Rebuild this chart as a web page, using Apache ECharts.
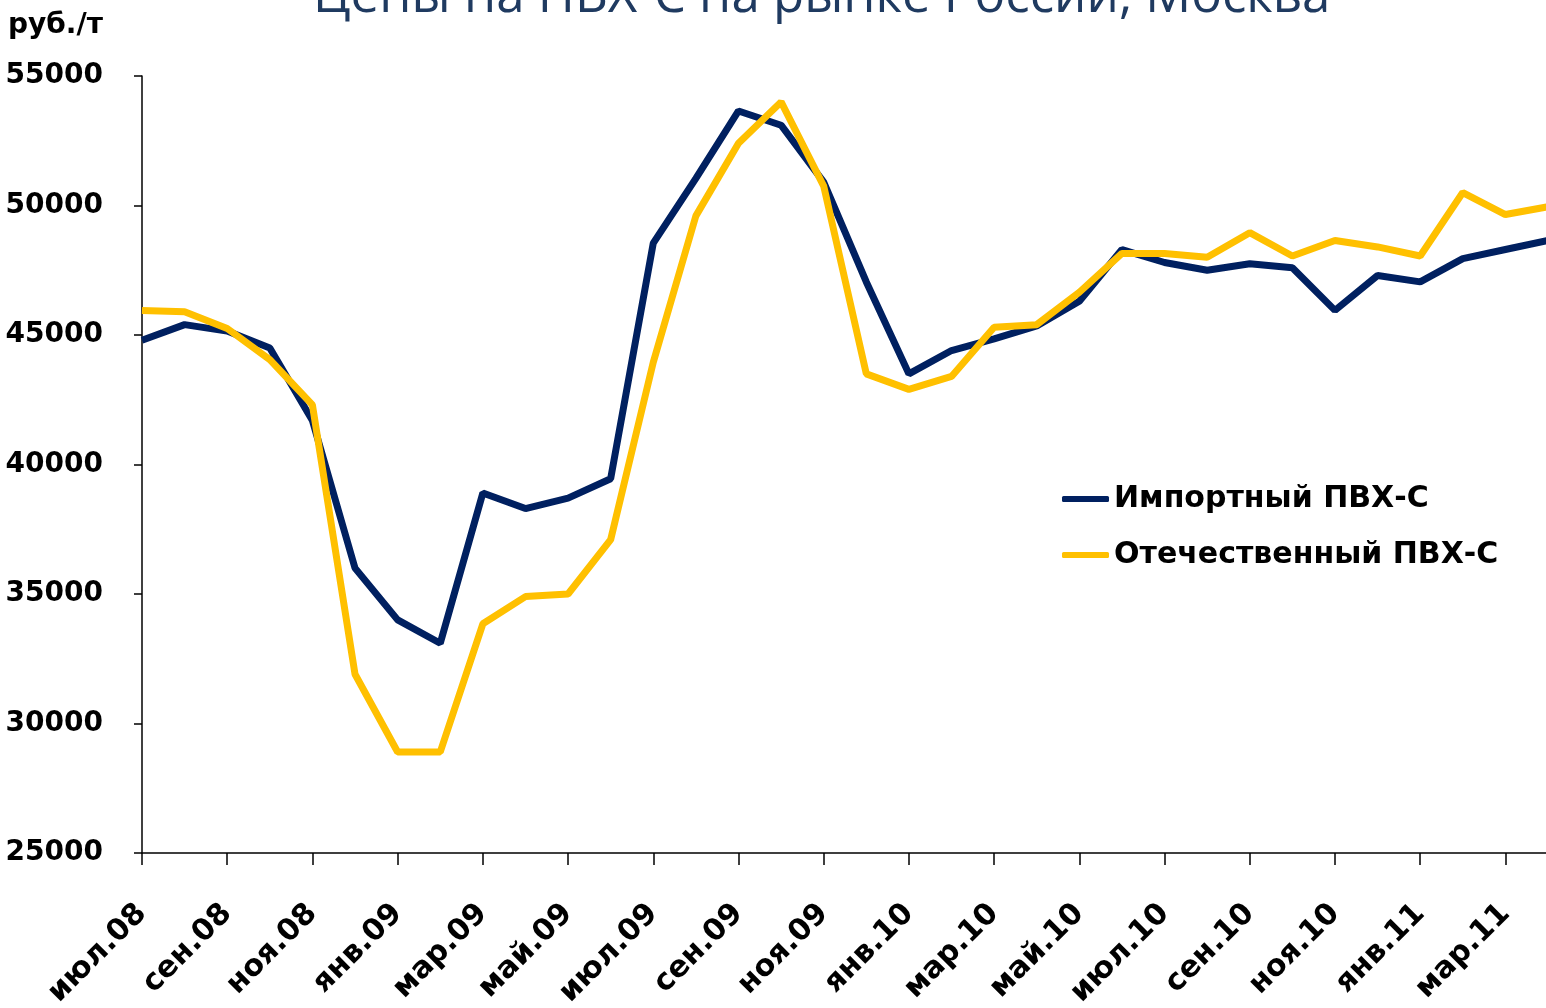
<!DOCTYPE html>
<html><head><meta charset="UTF-8">
<title>Цены на ПВХ-С</title>
<style>html,body{margin:0;padding:0;background:#fff}#chart{width:1546px;height:1008px}</style>
</head>
<body>
<div id="chart"></div>
<script src="https://cdn.jsdelivr.net/npm/echarts@6/dist/echarts.min.js"></script>
<script>
// месяцы июл.08 - апр.11
const months = ['июл.08','авг.08','сен.08','окт.08','ноя.08','дек.08',
    'янв.09','фев.09','мар.09','апр.09','май.09','июн.09','июл.09','авг.09','сен.09','окт.09','ноя.09','дек.09',
    'янв.10','фев.10','мар.10','апр.10','май.10','июн.10','июл.10','авг.10','сен.10','окт.10','ноя.10','дек.10',
    'янв.11','фев.11','мар.11','апр.11'];
const importPvc = [44800,45400,45150,44500,41700,36000,34000,33100,38900,38300,38700,39450,48550,51050,53650,53100,50900,47050,
    43500,44400,44850,45350,46300,48300,47800,47500,47750,47600,45950,47300,47050,47950,48300,48650];
const domesticPvc = [45950,45900,45250,44050,42300,31900,28900,28900,33850,34900,35000,37100,43950,49600,52400,54000,50750,43500,
    42900,43400,45300,45400,46650,48150,48150,48000,48950,48050,48650,48400,48050,50500,49650,49950];
const seriesNames = ['Импортный ПВХ-С', 'Отечественный ПВХ-С'];

const chart = echarts.init(document.getElementById('chart'));
const font = 'DejaVu Sans';
chart.setOption({
    animation: false,
    title: {
        text: 'Цены на ПВХ-С на рынке России, Москва',
        left: 308, top: -33,
        textStyle: { fontFamily: 'Open Sans', fontWeight: 'normal', fontSize: 51, color: '#1F3A60' }
    },
    graphic: [{
        type: 'text', left: 8, top: 12,
        style: { text: 'руб./т', font: 'bold 28px "DejaVu Sans"', fill: '#000' }
    }],
    legend: {
        orient: 'vertical', left: 1057, top: 479,
        itemWidth: 47, itemHeight: 6, itemGap: 26,
        icon: 'roundRect',
        data: seriesNames,
        textStyle: { fontFamily: font, fontWeight: 'bold', fontSize: 30, color: '#000' }
    },
    grid: { left: 142, top: 76, width: 1406, height: 777, containLabel: false, outerBoundsMode: 'none' },
    xAxis: {
        type: 'category', data: months, boundaryGap: false,
        axisLine: { lineStyle: { color: '#000', width: 1.5 } },
        axisTick: { interval: 1, length: 12, lineStyle: { color: '#000', width: 1.5 } },
        axisLabel: { interval: 1, rotate: 45, margin: 56, fontFamily: font, fontWeight: 'bold', fontSize: 30, color: '#000' }
    },
    yAxis: {
        type: 'value', min: 25000, max: 55000, interval: 5000,
        splitLine: { show: false },
        axisLine: { show: true, lineStyle: { color: '#000', width: 1.5 } },
        axisTick: { show: true, length: 8, lineStyle: { color: '#000', width: 1.5 } },
        axisLabel: { margin: 39, formatter: v => String(v), fontFamily: font, fontWeight: 'bold', fontSize: 28, color: '#000' }
    },
    series: [
        { name: seriesNames[0], type: 'line', data: importPvc, symbol: 'none', lineStyle: { width: 7, color: '#002060' }, itemStyle: { color: '#002060' } },
        { name: seriesNames[1], type: 'line', data: domesticPvc, symbol: 'none', lineStyle: { width: 7, color: '#FFC000' }, itemStyle: { color: '#FFC000' } }
    ]
});
</script>
</body></html>
